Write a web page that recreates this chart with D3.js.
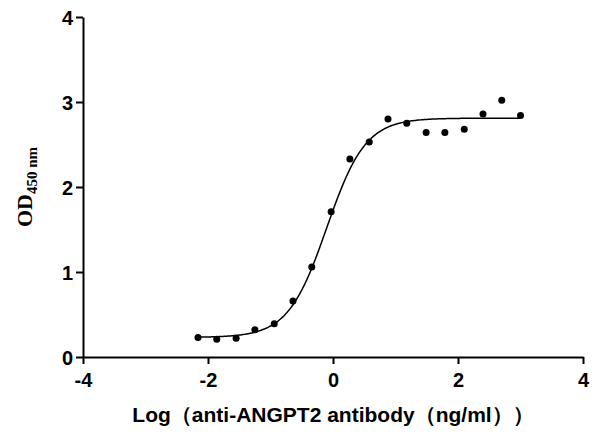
<!DOCTYPE html><html><head><meta charset="utf-8"><script src="https://cdn.jsdelivr.net/npm/d3@7"></script>
<style>body{margin:0;background:#fff}</style></head><body><svg id="c" width="600" height="447"></svg>
<script>
const xs=[-2.16,-1.86,-1.55,-1.25,-0.94,-0.64,-0.34,-0.03,0.27,0.58,0.88,1.18,1.49,1.79,2.10,2.40,2.70,3.0];
const ys=[0.23,0.21,0.22,0.32,0.39,0.66,1.06,1.71,2.33,2.53,2.80,2.75,2.64,2.64,2.68,2.86,3.02,2.84];
const fit={bottom:0.23,top:2.81,logEC50:-0.1,hill:1.4};
const xTicks=[-4,-2,0,2,4], yTicks=[0,1,2,3,4];
const svg=d3.select("#c");
const x=d3.scaleLinear().domain([-4,4]).range([83,583]);
const y=d3.scaleLinear().domain([0,4]).range([357,17]);
const f="Liberation Sans, Arial, sans-serif";
const gx=svg.append("g").attr("transform","translate(0,357)").call(d3.axisBottom(x).tickValues(xTicks).tickSize(7).tickSizeOuter(0).tickFormat(d=>d));
const gy=svg.append("g").attr("transform","translate(83,0)").call(d3.axisLeft(y).tickValues(yTicks).tickSize(7).tickSizeOuter(0).tickFormat(d=>d));
[gx,gy].forEach(g=>{g.selectAll("path,line").attr("stroke","#000").attr("stroke-width",2);g.selectAll("text").attr("font-family",f).attr("font-weight","bold").attr("font-size",20).attr("fill","#000");});
gx.selectAll("text").attr("dy","1.0em");
gy.selectAll("text").attr("dy","0.35em");
const fn=v=>fit.bottom+(fit.top-fit.bottom)/(1+Math.pow(10,(fit.logEC50-v)*fit.hill));
const pts=d3.range(-2.16,3.001,0.02).map(v=>[v,fn(v)]);
svg.append("path").attr("d",d3.line().x(d=>x(d[0])).y(d=>y(d[1]))(pts)).attr("fill","none").attr("stroke","#000").attr("stroke-width",1.5);
svg.selectAll("circle").data(xs).join("circle").attr("cx",d=>x(d)).attr("cy",(d,i)=>y(ys[i])).attr("r",3.5).attr("fill","#000");
svg.append("text").attr("x",333).attr("y",422).attr("text-anchor","middle").attr("font-family",f).attr("font-weight","bold").attr("font-size",21).text("Log（anti-ANGPT2 antibody（ng/ml））");
const yl=svg.append("text").attr("transform","translate(32,187) rotate(-90)").attr("text-anchor","middle").attr("font-family","Liberation Serif, serif").attr("font-weight","bold").attr("font-size",22);
yl.append("tspan").text("OD");
yl.append("tspan").attr("font-size",15).attr("dy",5).text("450 nm");
</script></body></html>
